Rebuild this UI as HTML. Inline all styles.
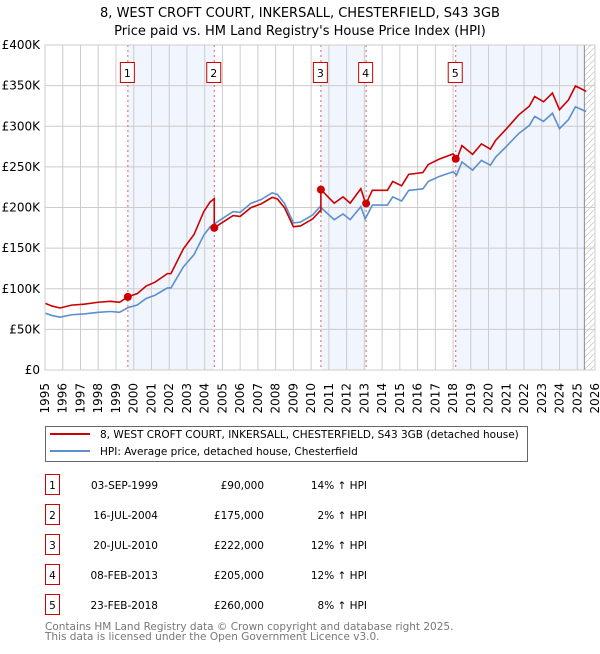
<!DOCTYPE html>
<html><head><meta charset="utf-8"><style>
body{margin:0;background:#fff;font-family:"DejaVu Sans","Liberation Sans",sans-serif;}
svg text{font-family:"DejaVu Sans","Liberation Sans",sans-serif;}
</style></head><body>
<svg id="c" width="600" height="650" xmlns="http://www.w3.org/2000/svg">
<defs><pattern id="hatch" width="6" height="6" patternUnits="userSpaceOnUse"><path d="M0,6 L6,0" stroke="#ccc" stroke-width="0.8"/></pattern></defs>
<text x="300" y="17" text-anchor="middle" font-size="13">8, WEST CROFT COURT, INKERSALL, CHESTERFIELD, S43 3GB</text>
<text x="300" y="35" text-anchor="middle" font-size="13">Price paid vs. HM Land Registry's House Price Index (HPI)</text>
<g id="plot"></g>
<g>
<rect x="45.5" y="426.5" width="482" height="35" fill="#fff" stroke="#666"/>
<line x1="50" y1="434" x2="90" y2="434" stroke="#cc0000" stroke-width="2"/>
<text x="100" y="438" font-size="10.5">8, WEST CROFT COURT, INKERSALL, CHESTERFIELD, S43 3GB (detached house)</text>
<line x1="50" y1="451" x2="90" y2="451" stroke="#5b8fd0" stroke-width="2"/>
<text x="100" y="455" font-size="10.5">HPI: Average price, detached house, Chesterfield</text>
</g>
<g id="table"></g>
<text x="45" y="630" font-size="10.5" fill="#777">Contains HM Land Registry data © Crown copyright and database right 2025.</text>
<text x="45" y="640" font-size="10.5" fill="#777">This data is licensed under the Open Government Licence v3.0.</text>
</svg>
<script>
const hpiYears=[1995,1995.4,1995.85,1996.5,1997.2,1998,1998.7,1999.2,1999.7,2000.2,2000.7,2001.2,2001.9,2002.1,2002.8,2003.4,2003.95,2004.3,2004.9,2005.6,2006,2006.6,2007.2,2007.8,2008.1,2008.5,2009,2009.4,2010.1,2010.5,2011.3,2011.8,2012.2,2012.8,2013.05,2013.45,2014.3,2014.6,2015.1,2015.5,2016.3,2016.6,2017.2,2018,2018.2,2018.5,2019.1,2019.6,2020.1,2020.4,2021,2021.7,2022.3,2022.6,2023.1,2023.6,2024,2024.5,2024.9,2025.3,2025.5];
const hpiValues=[70,67,65,68,69,71,72,71,77,80,88,92,101,101,127,142,166,176,185,195,194,205,210,218,216,205,181,182,191,201,185,192,185,201,186,203,203,213,208,221,223,232,238,244,240,256,246,258,252,262,275,291,301,312,306,316,297,308,324,320,318];
const saleYears=[1999.67,2004.54,2010.55,2013.1,2018.15];
const salePrices=[90,175,222,205,260];
const saleLabels=["1","2","3","4","5"];
const saleDates=["03-SEP-1999","16-JUL-2004","20-JUL-2010","08-FEB-2013","23-FEB-2018"];
const salePriceText=["£90,000","£175,000","£222,000","£205,000","£260,000"];
const saleHpiText=["14% ↑ HPI","2% ↑ HPI","12% ↑ HPI","12% ↑ HPI","8% ↑ HPI"];
const yTicks=[0,50,100,150,200,250,300,350,400];
const yTickLabels=["£0","£50K","£100K","£150K","£200K","£250K","£300K","£350K","£400K"];

const NS="http://www.w3.org/2000/svg";
const X0=45,X1=595,Y0=370,Y1=45;
const xs=y=>X0+(y-1995)/(2026-1995)*(X1-X0);
const ys=v=>Y0-v/400*(Y0-Y1);
function mk(tag,attrs,parent){const e=document.createElementNS(NS,tag);for(const k in attrs)e.setAttribute(k,attrs[k]);parent.appendChild(e);return e;}
function hpiAt(t){for(let i=0;i<hpiYears.length-1;i++){if(t<=hpiYears[i+1]){const f=(t-hpiYears[i])/(hpiYears[i+1]-hpiYears[i]);return hpiValues[i]+f*(hpiValues[i+1]-hpiValues[i]);}}return hpiValues[hpiValues.length-1];}
const plot=document.getElementById('plot');
const shadeEnd=2025.4;
for(let i=0;i<saleYears.length;i+=2){
  const a=saleYears[i],b=i+1<saleYears.length?saleYears[i+1]:shadeEnd;
  const r=mk('rect',{x:xs(a),y:Y1,width:xs(b)-xs(a),height:Y0-Y1,fill:'#eef3fc',opacity:0.8},plot);
  
  
}
const h=mk('rect',{x:xs(shadeEnd),y:Y1,width:X1-xs(shadeEnd),height:Y0-Y1,fill:'url(#hatch)'},plot);


for(let y=1995;y<=2026;y++){
  mk('line',{x1:xs(y),y1:Y1,x2:xs(y),y2:Y0,stroke:'#ccc','stroke-width':1},plot);
  const t=mk('text',{x:0,y:0,'font-size':12,'text-anchor':'end',transform:`translate(${xs(y)+4},${Y0+13}) rotate(-90)`},plot);
  t.textContent=y;
  
  
}
yTicks.forEach((v,i)=>{
  mk('line',{x1:X0,y1:ys(v),x2:X1,y2:ys(v),stroke:'#ccc','stroke-width':1},plot);
  const t=mk('text',{x:40,y:ys(v)+4,'font-size':12,'text-anchor':'end'},plot);
  t.textContent=yTickLabels[i];
  
  
});
mk('line',{x1:xs(shadeEnd),y1:Y1,x2:xs(shadeEnd),y2:Y0,stroke:'#888','stroke-width':1},plot);
saleYears.forEach((s,i)=>{
  mk('line',{x1:xs(s),y1:Y1,x2:xs(s),y2:Y0,stroke:'#e06060','stroke-width':1,'stroke-dasharray':'2,3'},plot);
  const b=mk('rect',{x:xs(s)-7.5,y:62.5,width:14,height:20,fill:'#fff',stroke:'#cc0000'},plot);
  
  
  const t=mk('text',{x:xs(s)-0.5,y:77,'font-size':11,'text-anchor':'middle'},plot);
  t.textContent=saleLabels[i];
  
  
});
const hp=mk('polyline',{points:hpiYears.map((y,i)=>xs(y)+','+ys(hpiValues[i])).join(' '),fill:'none',stroke:'#5b8fd0','stroke-width':1.6},plot);


const pts=[];
const times=[...new Set([...hpiYears,...saleYears])].sort((a,b)=>a-b);
times.forEach(t=>{
  let k=0;for(let i=0;i<saleYears.length;i++)if(t>=saleYears[i])k=i;
  if(saleYears.includes(t)&&saleYears.indexOf(t)>0){const p=saleYears.indexOf(t)-1;pts.push([t,salePrices[p]*hpiAt(t)/hpiAt(saleYears[p])]);}
  pts.push([t,salePrices[k]*hpiAt(t)/hpiAt(saleYears[k])]);
});
const pl=mk('polyline',{points:pts.map(p=>xs(p[0])+','+ys(p[1])).join(' '),fill:'none',stroke:'#cc0000','stroke-width':1.6},plot);


saleYears.forEach((s,i)=>{
  const c=mk('circle',{cx:xs(s),cy:ys(salePrices[i]),r:4,fill:'#cc0000'},plot);
  
  
});
mk('rect',{x:X0,y:Y1,width:X1-X0,height:Y0-Y1,fill:'none',stroke:'#ccc'},plot);
const tb=document.getElementById('table');
saleDates.forEach((d,i)=>{
  const cy=485+i*30;
  const b=mk('rect',{x:45.5,y:cy-10.5,width:14,height:20,fill:'#fff',stroke:'#cc0000'},tb);
  
  
  const cells=[[52.5,'middle',saleLabels[i]],[158,'end',d],[264,'end',salePriceText[i]],[367,'end',saleHpiText[i]]];
  cells.forEach(c=>{
    const t=mk('text',{x:c[0],y:cy+4,'font-size':10.5,'text-anchor':c[1]},tb);
    t.textContent=c[2];
    
    
  });
});
</script>
</body></html>
